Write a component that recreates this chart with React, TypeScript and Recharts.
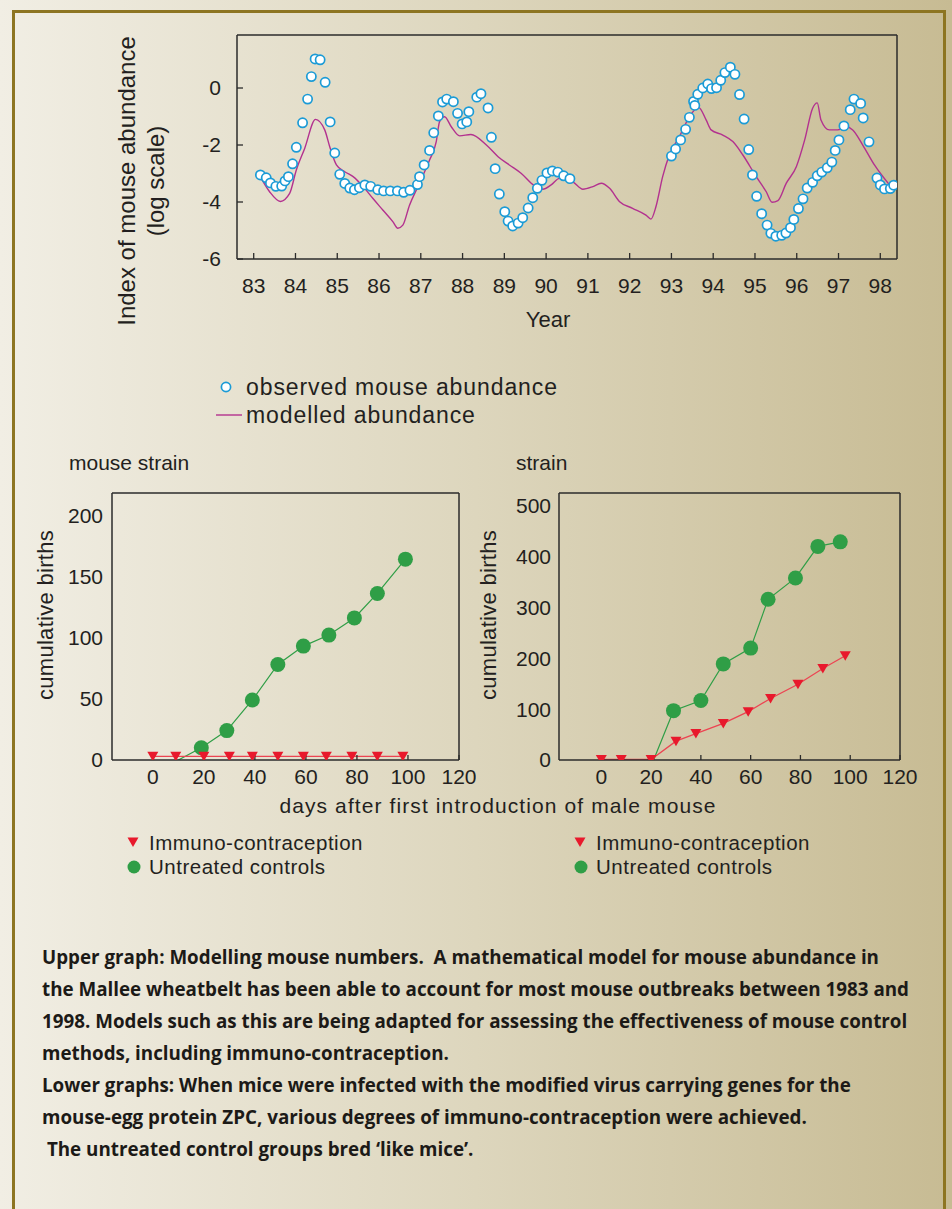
import React from 'react';
import { ComposedChart, LineChart, Line, Scatter, XAxis, YAxis } from 'recharts';

// upper graph: observed mouse abundance (year, log index)
const OBS_YEARS = [
  83.16, 83.3, 83.4, 83.53, 83.67, 83.75, 83.83, 83.93, 84.02, 84.17, 84.29, 84.38, 84.47, 84.59, 84.71,
  84.83, 84.94, 85.06, 85.18, 85.3, 85.41, 85.53, 85.66, 85.8, 85.97, 86.11, 86.27, 86.44, 86.59, 86.74,
  86.92, 86.97, 87.08, 87.21, 87.31, 87.42, 87.52, 87.62, 87.78, 87.88, 87.99, 88.1, 88.15, 88.34, 88.44,
  88.61, 88.69, 88.78, 88.88, 89.01, 89.09, 89.2, 89.33, 89.44, 89.57, 89.68, 89.79, 89.9, 90.02, 90.15,
  90.28, 90.42, 90.57, 93.0, 93.1, 93.22, 93.34, 93.43, 93.53, 93.56, 93.63, 93.75, 93.87, 93.96, 94.08,
  94.18, 94.28, 94.41, 94.52, 94.63, 94.74, 94.85, 94.94, 95.04, 95.16, 95.29, 95.38, 95.5, 95.64, 95.74,
  95.85, 95.93, 96.04, 96.15, 96.25, 96.38, 96.49, 96.6, 96.73, 96.84, 96.92, 97.01, 97.13, 97.28, 97.37,
  97.53, 97.59, 97.73, 97.92, 98.0, 98.1, 98.24, 98.32,
];
const OBS_VALUES = [
  -3.05, -3.15, -3.33, -3.45, -3.44, -3.26, -3.11, -2.66, -2.08, -1.22, -0.39, 0.4, 1.02, 0.99, 0.2,
  -1.19, -2.28, -3.03, -3.35, -3.51, -3.57, -3.5, -3.4, -3.45, -3.57, -3.61, -3.61, -3.61, -3.66, -3.59,
  -3.39, -3.11, -2.7, -2.19, -1.57, -0.98, -0.49, -0.39, -0.48, -0.89, -1.26, -1.19, -0.83, -0.32, -0.2,
  -0.7, -1.73, -2.83, -3.72, -4.34, -4.67, -4.84, -4.74, -4.55, -4.21, -3.85, -3.52, -3.24, -2.98, -2.91,
  -2.95, -3.08, -3.18, -2.39, -2.14, -1.82, -1.45, -1.03, -0.47, -0.61, -0.22, 0.0, 0.14, -0.02, 0.01,
  0.27, 0.54, 0.73, 0.48, -0.23, -1.09, -2.16, -3.05, -3.8, -4.41, -4.81, -5.1, -5.2, -5.17, -5.09,
  -4.9, -4.61, -4.23, -3.89, -3.51, -3.31, -3.08, -2.95, -2.8, -2.6, -2.19, -1.82, -1.33, -0.76, -0.39,
  -0.54, -1.05, -1.89, -3.16, -3.4, -3.54, -3.53, -3.41,
];

// upper graph: modelled abundance
const MODEL_YEARS = [
  83.19, 83.38, 83.64, 83.86, 84.02, 84.22, 84.48, 84.7, 84.82, 84.98, 85.18, 85.38, 85.62, 85.85, 86.09,
  86.33, 86.45, 86.57, 86.73, 86.93, 87.21, 87.37, 87.45, 87.57, 87.73, 87.93, 88.2, 88.57, 88.85, 89.12,
  89.4, 89.72, 89.92, 90.12, 90.32, 90.64, 90.88, 91.12, 91.32, 91.52, 91.76, 92.07, 92.39, 92.51, 92.63,
  92.79, 92.95, 93.19, 93.43, 93.65, 93.83, 93.95, 94.23, 94.47, 94.71, 95.03, 95.27, 95.41, 95.55, 95.75,
  95.99, 96.19, 96.38, 96.49, 96.58, 96.78, 96.98, 97.18, 97.34, 97.58, 97.86, 98.22,
];
const MODEL_VALUES = [
  -3.2, -3.64, -3.98, -3.7, -2.88, -2.12, -1.1, -1.47, -2.06, -2.7, -2.94, -3.11, -3.46, -3.87, -4.28,
  -4.69, -4.92, -4.81, -4.11, -3.46, -2.53, -1.88, -1.18, -1.01, -1.36, -1.68, -1.63, -2.0, -2.41, -2.7,
  -2.99, -3.43, -3.55, -3.4, -3.17, -3.29, -3.55, -3.46, -3.34, -3.52, -3.99, -4.22, -4.46, -4.6, -4.16,
  -3.11, -2.35, -1.71, -1.01, -0.68, -1.12, -1.47, -1.65, -1.88, -2.35, -3.11, -3.64, -4.01, -3.95, -3.34,
  -2.76, -1.82, -0.71, -0.52, -1.12, -1.47, -1.47, -1.36, -1.47, -2.0, -2.7, -3.4,
];

const YEAR_TICKS = [83, 84, 85, 86, 87, 88, 89, 90, 91, 92, 93, 94, 95, 96, 97, 98];
const INDEX_TICKS = [-6, -4, -2, 0];

// lower graphs: cumulative births
const DAY_TICKS = [0, 20, 40, 60, 80, 100, 120];
const LEFT_BIRTH_TICKS = [0, 50, 100, 150, 200];
const RIGHT_BIRTH_TICKS = [0, 100, 200, 300, 400, 500];

const LEFT_IMMUNO_DAYS = [0, 9, 20, 30, 39, 49, 59, 68, 78, 88, 98];
const LEFT_IMMUNO_BIRTHS = [3, 3, 3, 3, 3, 3, 3, 3, 3, 3, 3];
const LEFT_CONTROL_DAYS = [10, 19, 29, 39, 49, 59, 69, 79, 88, 99];
const LEFT_CONTROL_BIRTHS = [0, 10, 24, 49, 78, 93, 102, 116, 136, 164];

const RIGHT_IMMUNO_DAYS = [0, 8, 20, 30, 38, 49, 59, 68, 79, 89, 98];
const RIGHT_IMMUNO_BIRTHS = [1, 1, 1, 37, 52, 72, 95, 121, 149, 180, 205];
const RIGHT_CONTROL_DAYS = [21, 29, 40, 49, 60, 67, 78, 87, 96];
const RIGHT_CONTROL_BIRTHS = [0, 97, 117, 189, 220, 316, 358, 420, 429];

const CAPTION = [
  'Upper graph: Modelling mouse numbers.  A mathematical model for mouse abundance in',
  'the Mallee wheatbelt has been able to account for most mouse outbreaks between 1983 and',
  '1998. Models such as this are being adapted for assessing the effectiveness of mouse control',
  'methods, including immuno-contraception.',
  'Lower graphs: When mice were infected with the modified virus carrying genes for the',
  'mouse-egg protein ZPC, various degrees of immuno-contraception were achieved.',
  ' The untreated control groups bred \u2018like mice\u2019.',
];

const FONT = '"Liberation Sans", Arial, Helvetica, sans-serif';
const INK = '#231f20';
const FRAME = '#2b2b2b';
const BLUE = '#1b9bd6';
const MAGENTA = '#b3318f';
const GREEN = '#2f9e46';
const RED = '#e8192c';

const toPoints = (xs: number[], ys: number[]) => xs.map((x, i) => ({ x, v: ys[i] }));

const obsData = toPoints(OBS_YEARS, OBS_VALUES);
const modelData = toPoints(MODEL_YEARS, MODEL_VALUES);

function UpperYLabel() {
  return (
    <text transform="translate(0,181) rotate(-90)" textAnchor="middle" fontFamily={FONT} fontSize={24} fill={INK}>
      <tspan x={0} y={135}>Index of mouse abundance</tspan>
      <tspan x={0} y={164}>(log scale)</tspan>
    </text>
  );
}

function YearLabel() {
  return (
    <text x={548} y={327} textAnchor="middle" fontFamily={FONT} fontSize={22} fill={INK}>
      Year
    </text>
  );
}

function BirthsLabel({ bx }: { bx: number }) {
  return (
    <text
      transform={`translate(${bx},175) rotate(-90)`}
      textAnchor="middle"
      fontFamily={FONT}
      fontSize={22}
      letterSpacing={0.3}
      fill={INK}
    >
      cumulative births
    </text>
  );
}

const tri = (cx: number, cy: number) =>
  `${cx - 5.5},${cy - 4.5} ${cx + 5.5},${cy - 4.5} ${cx},${cy + 5}`;

const triangleDot = (props: any) => {
  const { cx, cy, index } = props;
  return <polygon key={`t${index}`} points={tri(cx, cy)} fill={RED} />;
};

// first control entry only starts the line, no marker
const circleDot = (props: any) => {
  const { cx, cy, index } = props;
  if (index === 0) return <g key={`c${index}`} />;
  return <circle key={`c${index}`} cx={cx} cy={cy} r={7.5} fill={GREEN} />;
};

const obsShape = (props: any) => (
  <circle cx={props.cx} cy={props.cy} r={4.6} fill="#ffffff" stroke={BLUE} strokeWidth={1.7} />
);

function UpperChart() {
  return (
    <ComposedChart width={952} height={345} margin={{ top: 34, right: 54, bottom: 56, left: 137 }}>
      <XAxis
        xAxisId="b"
        dataKey="x"
        type="number"
        domain={[82.6, 98.4]}
        allowDataOverflow
        ticks={YEAR_TICKS}
        interval={0}
        height={30}
        tickSize={-6}
        tickMargin={25}
        tick={{ fill: INK, fontSize: 21, fontFamily: FONT }}
        axisLine={{ stroke: FRAME, strokeWidth: 1.5 }}
        tickLine={{ stroke: FRAME, strokeWidth: 1.3 }}
        label={<YearLabel />}
      />
      <XAxis
        xAxisId="t"
        orientation="top"
        dataKey="x"
        type="number"
        domain={[82.6, 98.4]}
        allowDataOverflow
        ticks={YEAR_TICKS}
        interval={0}
        height={1}
        tickSize={-6}
        tick={false}
        axisLine={{ stroke: FRAME, strokeWidth: 1.5 }}
        tickLine={{ stroke: FRAME, strokeWidth: 1.3 }}
      />
      <YAxis
        yAxisId="l"
        dataKey="v"
        type="number"
        domain={[-6, 1.86]}
        allowDataOverflow
        ticks={INDEX_TICKS}
        interval={0}
        width={100}
        tickSize={-6}
        tickMargin={22}
        tick={{ fill: INK, fontSize: 21, fontFamily: FONT }}
        axisLine={{ stroke: FRAME, strokeWidth: 1.5 }}
        tickLine={{ stroke: FRAME, strokeWidth: 1.3 }}
        label={<UpperYLabel />}
      />
      <YAxis
        yAxisId="r"
        orientation="right"
        type="number"
        domain={[-6, 1.86]}
        width={1}
        tick={false}
        tickLine={false}
        axisLine={{ stroke: FRAME, strokeWidth: 1.5 }}
      />
      <Line
        xAxisId="b"
        yAxisId="l"
        data={modelData}
        dataKey="v"
        type="monotone"
        stroke={MAGENTA}
        strokeWidth={1.4}
        dot={false}
        isAnimationActive={false}
      />
      <Scatter
        xAxisId="b"
        yAxisId="l"
        data={obsData}
        dataKey="v"
        shape={obsShape}
        isAnimationActive={false}
      />
    </ComposedChart>
  );
}

function BirthsChart(props: {
  marginLeft: number;
  marginRight: number;
  domainX: [number, number];
  domainY: [number, number];
  yTicks: number[];
  tickMargin: number;
  labelX: number;
  immuno: { x: number; v: number }[];
  control: { x: number; v: number }[];
}) {
  const { marginLeft, marginRight, domainX, domainY, yTicks, tickMargin, labelX, immuno, control } = props;
  return (
    <LineChart width={476} height={400} margin={{ top: 52, right: marginRight, bottom: 50, left: marginLeft }}>
      <XAxis
        xAxisId="b"
        dataKey="x"
        type="number"
        domain={domainX}
        allowDataOverflow
        ticks={DAY_TICKS}
        interval={0}
        height={30}
        tickSize={-5}
        tickMargin={14}
        tick={{ fill: INK, fontSize: 21, fontFamily: FONT }}
        axisLine={{ stroke: FRAME, strokeWidth: 1.5 }}
        tickLine={{ stroke: FRAME, strokeWidth: 1.3 }}
      />
      <XAxis
        xAxisId="t"
        orientation="top"
        dataKey="x"
        type="number"
        domain={domainX}
        allowDataOverflow
        height={1}
        tick={false}
        tickLine={false}
        axisLine={{ stroke: FRAME, strokeWidth: 1.5 }}
      />
      <YAxis
        yAxisId="l"
        dataKey="v"
        type="number"
        domain={domainY}
        allowDataOverflow
        ticks={yTicks}
        interval={0}
        width={60}
        tickSize={0}
        tickMargin={tickMargin}
        tickLine={false}
        tick={{ fill: INK, fontSize: 21, fontFamily: FONT }}
        axisLine={{ stroke: FRAME, strokeWidth: 1.5 }}
        label={<BirthsLabel bx={labelX} />}
      />
      <YAxis
        yAxisId="r"
        orientation="right"
        type="number"
        domain={domainY}
        width={1}
        tick={false}
        tickLine={false}
        axisLine={{ stroke: FRAME, strokeWidth: 1.5 }}
      />
      <Line
        xAxisId="b"
        yAxisId="l"
        data={control}
        dataKey="v"
        type="linear"
        stroke={GREEN}
        strokeWidth={1.2}
        dot={circleDot}
        isAnimationActive={false}
      />
      <Line
        xAxisId="b"
        yAxisId="l"
        data={immuno}
        dataKey="v"
        type="linear"
        stroke="#ec4452"
        strokeWidth={1.3}
        dot={triangleDot}
        isAnimationActive={false}
      />
    </LineChart>
  );
}

function TreatmentLegend({ left }: { left: number }) {
  const row: React.CSSProperties = { display: 'flex', alignItems: 'center', height: 24 };
  return (
    <div style={{ position: 'absolute', left, top: 831, fontFamily: FONT, fontSize: 20.5, color: INK, letterSpacing: 0.5 }}>
      <div style={row}>
        <svg width={20} height={14} style={{ marginRight: 4 }}>
          <polygon points={tri(8, 6)} fill={RED} />
        </svg>
        Immuno-contraception
      </div>
      <div style={row}>
        <svg width={20} height={16} style={{ marginRight: 4 }}>
          <circle cx={9} cy={8} r={6.5} fill={GREEN} />
        </svg>
        Untreated controls
      </div>
    </div>
  );
}

export default function App() {
  const abs: React.CSSProperties = { position: 'absolute' };
  return (
    <div
      style={{
        position: 'absolute',
        left: 0,
        top: 0,
        width: 952,
        height: 1209,
        overflow: 'hidden',
        background: 'linear-gradient(to right, #f1eee4 0%, #ddd6bd 50%, #c7bb93 100%)',
      }}
    >
      <div
        style={{
          ...abs,
          left: 12,
          top: 10,
          width: 928,
          height: 1400,
          borderTop: '3px solid #8d7522',
          borderLeft: '3px solid #8d7522',
          borderRight: '3px solid #8d7522',
        }}
      />

      <div style={{ ...abs, left: 0, top: 0 }}>
        <UpperChart />
      </div>

      <div style={{ ...abs, left: 216, top: 373, fontFamily: FONT, fontSize: 23, color: INK, letterSpacing: 0.9, lineHeight: '28px' }}>
        <div style={{ display: 'flex', alignItems: 'center' }}>
          <svg width={30} height={28}>
            <circle cx={10} cy={14} r={4.6} fill="#fff" stroke={BLUE} strokeWidth={1.7} />
          </svg>
          observed mouse abundance
        </div>
        <div style={{ display: 'flex', alignItems: 'center' }}>
          <svg width={30} height={28}>
            <line x1={0} y1={14} x2={26} y2={14} stroke={MAGENTA} strokeWidth={1.4} />
          </svg>
          modelled abundance
        </div>
      </div>

      <div style={{ ...abs, left: 69, top: 451, fontFamily: FONT, fontSize: 21, color: INK }}>mouse strain</div>
      <div style={{ ...abs, left: 516, top: 451, fontFamily: FONT, fontSize: 21, color: INK }}>strain</div>

      <div style={{ ...abs, left: 0, top: 440 }}>
        <BirthsChart
          marginLeft={52}
          marginRight={16}
          domainX={[-16, 120]}
          domainY={[0, 218]}
          yTicks={LEFT_BIRTH_TICKS}
          tickMargin={9}
          labelX={53}
          immuno={toPoints(LEFT_IMMUNO_DAYS, LEFT_IMMUNO_BIRTHS)}
          control={toPoints(LEFT_CONTROL_DAYS, LEFT_CONTROL_BIRTHS)}
        />
      </div>
      <div style={{ ...abs, left: 476, top: 440 }}>
        <BirthsChart
          marginLeft={23}
          marginRight={51}
          domainX={[-17, 120]}
          domainY={[0, 525]}
          yTicks={RIGHT_BIRTH_TICKS}
          tickMargin={8}
          labelX={20}
          immuno={toPoints(RIGHT_IMMUNO_DAYS, RIGHT_IMMUNO_BIRTHS)}
          control={toPoints(RIGHT_CONTROL_DAYS, RIGHT_CONTROL_BIRTHS)}
        />
      </div>

      <div style={{ ...abs, left: 0, width: 996, top: 794, textAlign: 'center', fontFamily: FONT, fontSize: 21, color: INK, letterSpacing: 1.1 }}>
        days after first introduction of male mouse
      </div>

      <TreatmentLegend left={125} />
      <TreatmentLegend left={572} />

      <div
        style={{
          ...abs,
          left: 42,
          top: 941,
          fontFamily: '"Open Sans", "Noto Sans", sans-serif',
          fontWeight: 700,
          fontSize: 18.8,
          lineHeight: '32px',
          color: '#1c1a17',
          whiteSpace: 'pre',
        }}
      >
        {CAPTION.map((line, i) => (
          <div key={i}>{line}</div>
        ))}
      </div>
    </div>
  );
}
